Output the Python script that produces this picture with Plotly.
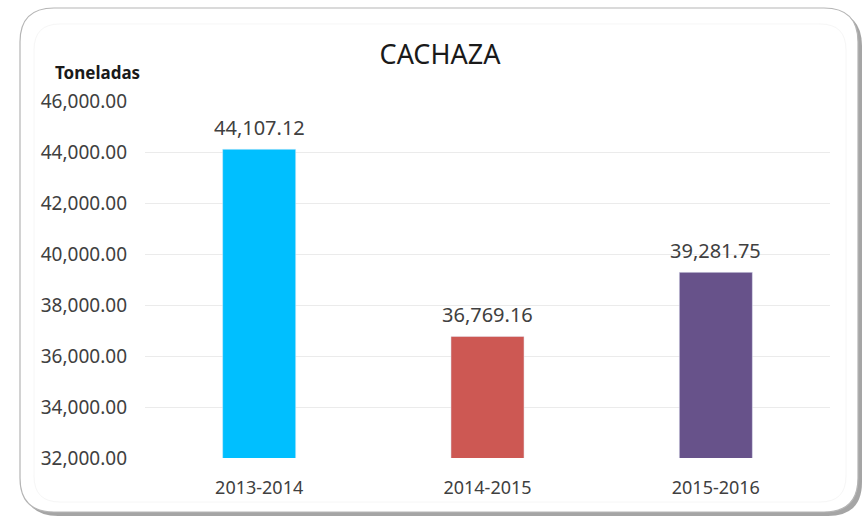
import plotly.graph_objects as go

categories = ["2013-2014", "2014-2015", "2015-2016"]
values = [44107.12, 36769.16, 39281.75]
colors = ["#00BFFF", "#CD5853", "#67528A"]
tick_vals = [32000, 34000, 36000, 38000, 40000, 42000, 44000, 46000]

W, H = 866, 517
L, R, T, B = 145, 36, 101, 59
pw, ph = W - L - R, H - T - B

def px(x):
    return (x - L) / pw

def py(y):
    return (H - B - y) / ph

def rrect(x0, y0, x1, y1, r):
    pts = [
        ("M", x0 + r, y0), ("L", x1 - r, y0), ("Q", x1, y0, x1, y0 + r),
        ("L", x1, y1 - r), ("Q", x1, y1, x1 - r, y1), ("L", x0 + r, y1),
        ("Q", x0, y1, x0, y1 - r), ("L", x0, y0 + r), ("Q", x0, y0, x0 + r, y0),
    ]
    s = ""
    for p in pts:
        cmd = p[0]
        coords = p[1:]
        parts = []
        for i in range(0, len(coords), 2):
            parts.append(f"{px(coords[i]):.5f},{py(coords[i+1]):.5f}")
        s += cmd + " " + " ".join(parts) + " "
    return s + "Z"

fig = go.Figure()
fig.add_trace(go.Bar(
    x=categories, y=values, marker_color=colors, width=0.32,
    hoverinfo="skip",
))

shapes = [
    dict(type="path", path=rrect(24, 12, 862, 516, 34), xref="paper", yref="paper",
         fillcolor="#A5A5A5", line=dict(width=0), layer="below"),
    dict(type="path", path=rrect(20, 8, 858, 512, 34), xref="paper", yref="paper",
         fillcolor="#FFFFFF", line=dict(color="#B5B5B5", width=1.2), layer="below"),
    dict(type="path", path=rrect(34, 24, 846, 502, 26), xref="paper", yref="paper",
         fillcolor="rgba(0,0,0,0)", line=dict(color="#F6F6F6", width=1), layer="below"),
]

annotations = [dict(text="<b>Toneladas</b>", x=px(97), y=py(72), xref="paper", yref="paper",
                    showarrow=False, xanchor="center", yanchor="middle",
                    font=dict(size=17, color="#1A1A1A", family="Noto Sans"))]
for c, v in zip(categories, values):
    annotations.append(dict(text=f"{v:,.2f}", x=c, y=v, xref="x", yref="y",
                            showarrow=False, xanchor="center", yanchor="middle", yshift=22,
                            font=dict(size=20, color="#404040", family="Noto Sans")))

fig.update_layout(
    width=W, height=H,
    margin=dict(l=L, r=R, t=T, b=B),
    paper_bgcolor="white", plot_bgcolor="rgba(0,0,0,0)",
    showlegend=False,
    shapes=shapes,
    title=dict(text="CACHAZA", x=440 / W, xanchor="center", y=1 - 55 / H, yanchor="middle",
               yref="container", font=dict(size=27, color="#1A1A1A", family="Noto Sans")),
    font=dict(family="Noto Sans", color="#404040"),
    annotations=annotations,
    yaxis=dict(range=[32000, 46000], tickvals=tick_vals, tickformat=",.2f",
               showgrid=True, gridcolor="#EBEBEB", gridwidth=1, zeroline=False,
               showline=False, ticks="", ticklabelstandoff=17,
               tickfont=dict(size=19, color="#404040", family="Noto Sans")),
    xaxis=dict(showgrid=False, showline=False, ticks="", ticklabelstandoff=17,
               tickfont=dict(size=18, color="#404040", family="Noto Sans")),
)

fig.write_html("out.html", config={"displayModeBar": False},
               post_script="document.body.style.margin='0';document.body.style.overflow='hidden';")
